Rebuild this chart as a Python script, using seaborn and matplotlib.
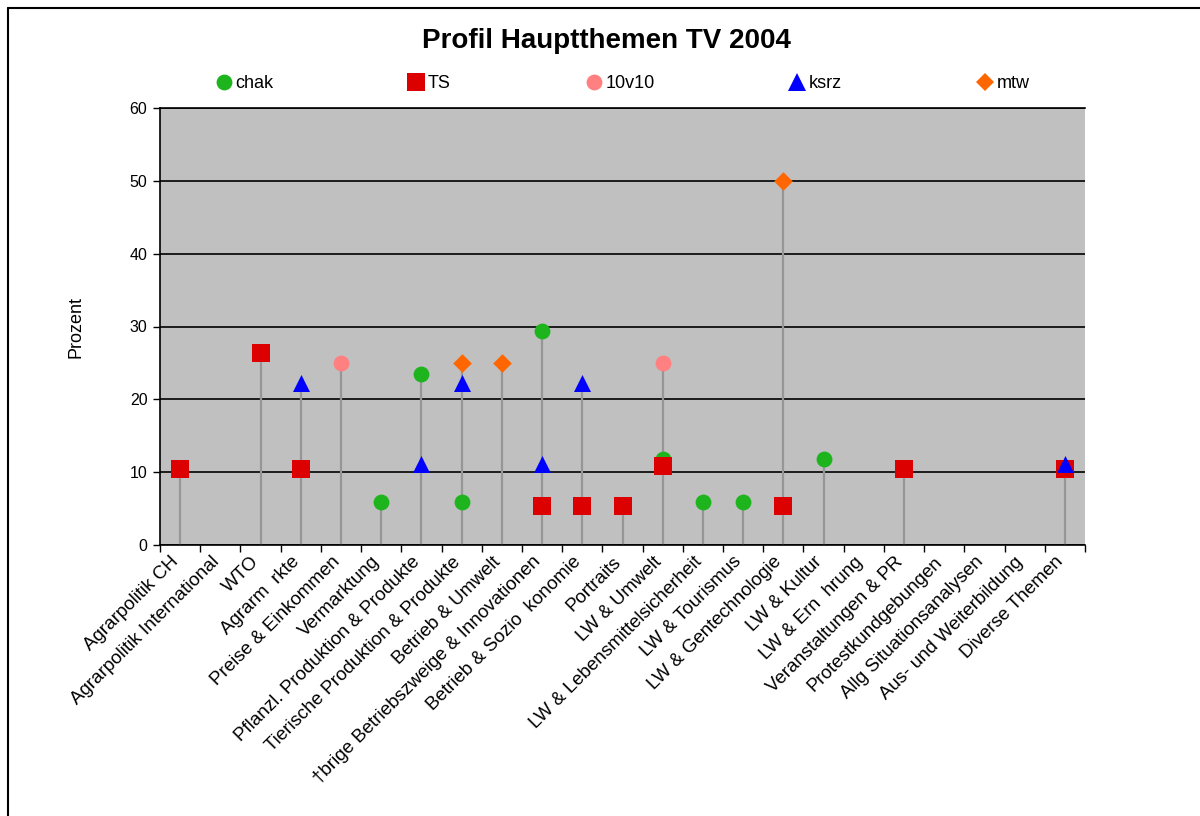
import numpy as np
import pandas as pd
import matplotlib
matplotlib.use("Agg")
import matplotlib.pyplot as plt
import matplotlib.transforms as mtransforms
from matplotlib.lines import Line2D
import seaborn as sns

nan = np.nan

# --- data ---
categories = [
    "Agrarpolitik CH", "Agrarpolitik International", "WTO", "Agrarm  rkte",
    "Preise & Einkommen", "Vermarktung", "Pflanzl. Produktion & Produkte",
    "Tierische Produktion & Produkte", "Betrieb & Umwelt",
    "†brige Betriebszweige & Innovationen", "Betrieb & Sozio  konomie",
    "Portraits", "LW & Umwelt", "LW & Lebensmittelsicherheit", "LW & Tourismus",
    "LW & Gentechnologie", "LW & Kultur", "LW & Ern  hrung",
    "Veranstaltungen & PR", "Protestkundgebungen", "Allg Situationsanalysen",
    "Aus- und Weiterbildung", "Diverse Themen",
]
chak = [nan, nan, nan, nan, nan, 5.9, 23.5, 5.9, nan, 29.4, nan, nan,
        11.8, 5.9, 5.9, nan, 11.8, nan, nan, nan, nan, nan, nan]
ts = [10.5, nan, 26.3, 10.5, nan, nan, nan, nan, nan, 5.3, 5.3, 5.3,
      10.9, nan, nan, 5.3, nan, nan, 10.5, nan, nan, nan, 10.5]
v10 = [nan, nan, nan, nan, 25.0, nan, nan, nan, nan, nan, nan, nan,
       25.0, nan, nan, nan, nan, nan, nan, nan, nan, nan, nan]
ksrz = [nan, nan, nan, 22.2, nan, nan, 11.1, 22.2, nan, 11.1, 22.2, nan,
        nan, nan, nan, nan, nan, nan, nan, nan, nan, nan, 11.1]
mtw = [nan, nan, nan, nan, nan, nan, nan, 25.0, 25.0, nan, nan, nan,
       nan, nan, nan, 50.0, nan, nan, nan, nan, nan, nan, nan]

series_names = ["chak", "TS", "10v10", "ksrz", "mtw"]
series_vals = [chak, ts, v10, ksrz, mtw]
colors = ["#1DB41D", "#DD0000", "#FF8080", "#0000FF", "#FF6600"]
markers = ["o", "s", "o", "^", "D"]
sizes = [130, 150, 130, 150, 90]

pos = np.arange(len(categories))
df = pd.DataFrame({"pos": pos})
for name, vals in zip(series_names, series_vals):
    df[name] = vals

# --- figure ---
sns.set_theme(style="white")
plt.rcParams["font.family"] = ["Liberation Sans", "DejaVu Sans"]
plt.rcParams.update({"text.color": "black", "axes.labelcolor": "black",
                     "xtick.color": "black", "ytick.color": "black"})

fig = plt.figure(figsize=(12, 8.16), dpi=100)
ax = fig.add_axes([160 / 1200, 1 - 545 / 816, 925 / 1200, 437 / 816])
ax.set_facecolor("#C0C0C0")

# drop lines from highest point to axis
top = df[series_names].max(axis=1)
has = top.notna()
ax.vlines(df.loc[has, "pos"], 0, top[has], color="#969696", lw=1.6, zorder=2)

for name, c, m, s in zip(series_names, colors, markers, sizes):
    sns.scatterplot(data=df, x="pos", y=name, ax=ax, color=c, marker=m, s=s,
                    linewidth=0, zorder=3, legend=False)

ax.set_xlim(-0.5, len(categories) - 0.5)
ax.set_ylim(0, 60)
ax.set_yticks(range(0, 61, 10))
ax.yaxis.grid(True, color="black", lw=1.2)
ax.set_axisbelow(True)

ax.set_xticks(pos)
ax.set_xticklabels(categories, rotation=45, ha="right", va="top",
                   rotation_mode="anchor", fontsize=13.5)
ax.set_xticks(np.arange(-0.5, len(categories), 1), minor=True)
ax.tick_params(axis="x", which="major", length=0, pad=6)
ax.tick_params(axis="x", which="minor", length=5, width=1, color="black",
               direction="out", bottom=True)
ax.tick_params(axis="y", length=5, width=1, color="black", direction="out",
               left=True, labelsize=11.5, pad=4)
offset = mtransforms.ScaledTranslation(-10 / 100, 0, fig.dpi_scale_trans)
for lab in ax.get_xticklabels():
    lab.set_transform(lab.get_transform() + offset)

for side in ["left", "bottom", "top"]:
    ax.spines[side].set_color("black")
    ax.spines[side].set_linewidth(1.2)
ax.spines["right"].set_visible(False)

ax.set_xlabel("")
ax.set_ylabel("Prozent", fontsize=13)
ax.yaxis.set_label_coords(-0.082, 0.5)

fig.suptitle("Profil Hauptthemen TV 2004", fontsize=20, fontweight="bold",
             x=606 / 1200, y=1 - 28 / 816, va="top")

handles = [Line2D([], [], ls="none", marker=m, color=c, markersize=np.sqrt(s),
                  markeredgewidth=0)
           for c, m, s in zip(colors, markers, sizes)]
fig.legend(handles, series_names, loc="center", ncol=5, frameon=False,
           bbox_to_anchor=(623 / 1200, 1 - 84 / 816), fontsize=13,
           handlelength=0.8, handletextpad=0.25, columnspacing=7.5)

# chart area border
fig.add_artist(Line2D([8 / 1200, 8 / 1200], [0, 1 - 8 / 816], color="black",
                      lw=1.5, transform=fig.transFigure))
fig.add_artist(Line2D([8 / 1200, 1], [1 - 8 / 816, 1 - 8 / 816], color="black",
                      lw=1.5, transform=fig.transFigure))

fig.savefig("out.png", dpi=100, facecolor="white")
